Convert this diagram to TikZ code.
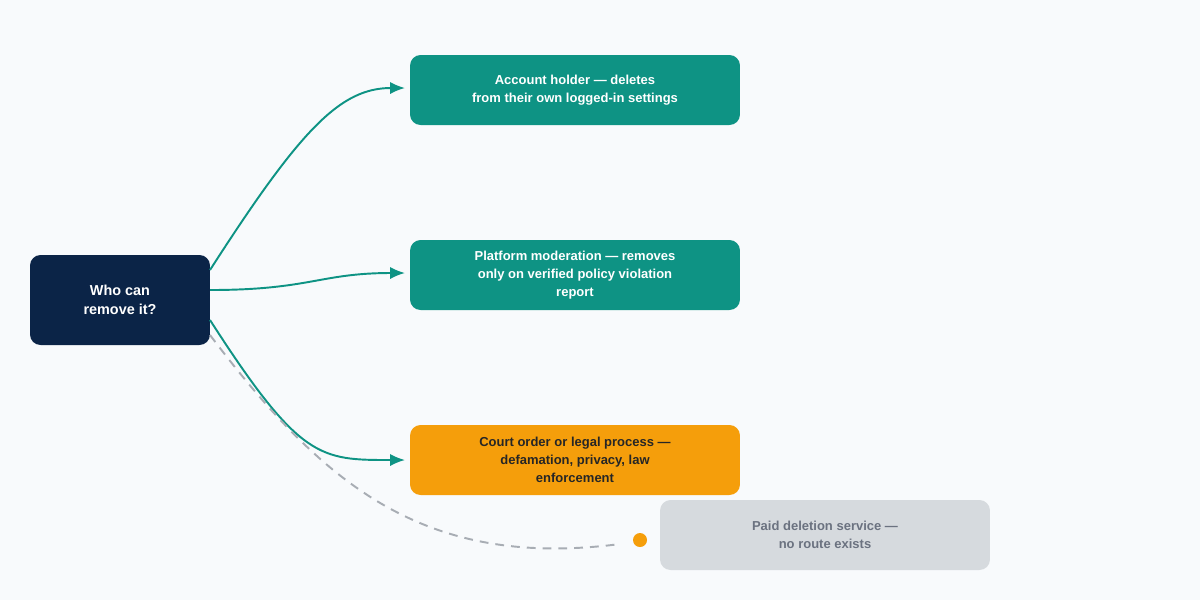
\documentclass[tikz,border=0pt]{standalone}
\usepackage{fontspec}
\setmainfont{Liberation Sans}
\usetikzlibrary{arrows.meta}
\definecolor{bg}{HTML}{F8FAFC}
\definecolor{navy}{HTML}{0B2447}
\definecolor{teal}{HTML}{0E9384}
\definecolor{amber}{HTML}{F59E0B}
\definecolor{greybox}{HTML}{D6DADE}
\definecolor{greytxt}{HTML}{6B7280}
\definecolor{dashgrey}{HTML}{A8ADB4}
\begin{document}
\begin{tikzpicture}[x=0.02cm,y=-0.02cm,
  box/.style={rounded corners=6pt,inner sep=0pt,align=center,font=\fontsize{7.4}{10.2}\selectfont\bfseries},
  edge/.style={teal,line width=1.1pt,-{Latex[length=8.5pt,width=7pt]}}]
\fill[bg] (0,0) rectangle (1200,600);
\useasboundingbox (0,0) rectangle (1200,600);
\node[box,fill=navy,text=white,minimum width=3.6cm,minimum height=1.8cm,font=\fontsize{8.2}{11}\selectfont\bfseries] (s) at (120,300) {Who can\\remove it?};
\node[box,fill=teal,text=white,minimum width=6.6cm,minimum height=1.4cm] (a) at (575,90) {Account holder — deletes\\from their own logged-in settings};
\node[box,fill=teal,text=white,minimum width=6.6cm,minimum height=1.4cm] (b) at (575,275) {Platform moderation — removes\\only on verified policy violation\\report};
\node[box,fill=amber,text=black!85,minimum width=6.6cm,minimum height=1.4cm] (c) at (575,460) {Court order or legal process —\\defamation, privacy, law\\enforcement};
\node[box,fill=greybox,text=greytxt,minimum width=6.6cm,minimum height=1.4cm] (d) at (825,535) {Paid deletion service —\\no route exists};
\coordinate (a1) at (210,270); \coordinate (a2) at (405,88);
\coordinate (b1) at (210,290); \coordinate (b2) at (405,273);
\coordinate (c1) at (210,320); \coordinate (c2) at (405,460);
\coordinate (d1) at (210,335); \coordinate (d2) at (620,544);
\draw[edge] (a1) .. controls (300,130) and (340,88) .. (a2);
\draw[edge] (b1) .. controls (310,290) and (320,273) .. (b2);
\draw[edge] (c1) .. controls (300,460) and (320,460) .. (c2);
\draw[dashgrey,line width=1.1pt,dash pattern=on 5pt off 4pt] (d1) .. controls (320,480) and (420,570) .. (d2);
\node[circle,fill=amber,minimum size=0.28cm,inner sep=0pt] (dot) at (640,540) {};
\end{tikzpicture}
\end{document}
